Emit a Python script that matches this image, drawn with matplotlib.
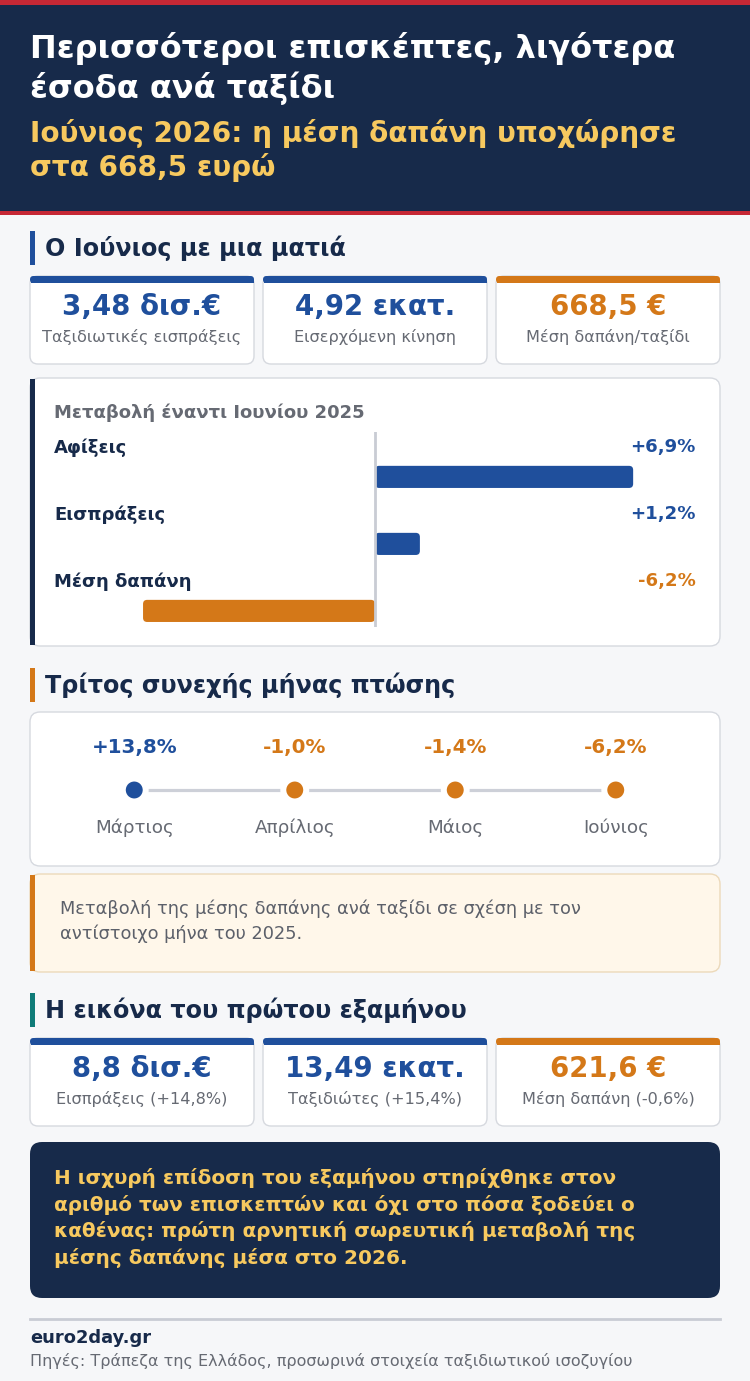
import matplotlib
matplotlib.use("Agg")
import matplotlib.pyplot as plt
from matplotlib.patches import FancyBboxPatch, Rectangle

# ---------------- data ----------------
title_lines = ["Περισσότεροι επισκέπτες, λιγότερα", "έσοδα ανά ταξίδι"]
subtitle_lines = ["Ιούνιος 2026: η μέση δαπάνη υποχώρησε", "στα 668,5 ευρώ"]

section1 = "Ο Ιούνιος με μια ματιά"
june_values = ["3,48 δισ.€", "4,92 εκατ.", "668,5 €"]
june_labels = ["Ταξιδιωτικές εισπράξεις", "Εισερχόμενη κίνηση", "Μέση δαπάνη/ταξίδι"]
june_kinds = ["pos", "pos", "neg"]

change_title = "Μεταβολή έναντι Ιουνίου 2025"
change_labels = ["Αφίξεις", "Εισπράξεις", "Μέση δαπάνη"]
change_values = [6.9, 1.2, -6.2]

section2 = "Τρίτος συνεχής μήνας πτώσης"
months = ["Μάρτιος", "Απρίλιος", "Μάιος", "Ιούνιος"]
month_changes = [13.8, -1.0, -1.4, -6.2]
note_lines = ["Μεταβολή της μέσης δαπάνης ανά ταξίδι σε σχέση με τον",
              "αντίστοιχο μήνα του 2025."]

section3 = "Η εικόνα του πρώτου εξαμήνου"
h1_values = ["8,8 δισ.€", "13,49 εκατ.", "621,6 €"]
h1_labels = ["Εισπράξεις (+14,8%)", "Ταξιδιώτες (+15,4%)", "Μέση δαπάνη (-0,6%)"]
h1_kinds = ["pos", "pos", "neg"]

conclusion_lines = ["Η ισχυρή επίδοση του εξαμήνου στηρίχθηκε στον",
                    "αριθμό των επισκεπτών και όχι στο πόσα ξοδεύει ο",
                    "καθένας: πρώτη αρνητική σωρευτική μεταβολή της",
                    "μέσης δαπάνης μέσα στο 2026."]
brand = "euro2day.gr"
source = "Πηγές: Τράπεζα της Ελλάδος, προσωρινά στοιχεία ταξιδιωτικού ισοζυγίου"

# ---------------- style ----------------
NAVY = "#172a4a"
RED = "#c62835"
YELLOW = "#f7c95f"
BLUE = "#1f4f9c"
ORANGE = "#d47818"
TEAL = "#0f7b78"
BG = "#f6f7f9"
BORDER = "#d6d9df"
GRAY = "#666a73"
LINEGRAY = "#c9ccd4"

plt.rcParams["font.family"] = ["DejaVu Sans"]

W, H = 750, 1381
fig = plt.figure(figsize=(W / 100, H / 100), dpi=100)
fig.patch.set_facecolor(BG)
cv = fig.add_axes([0, 0, 1, 1])
cv.set_xlim(0, W)
cv.set_ylim(H, 0)
cv.axis("off")


def rbox(x0, y0, x1, y1, fc, ec="none", r=8, lw=1.0, z=1):
    p = FancyBboxPatch((x0, y0), x1 - x0, y1 - y0,
                       boxstyle=f"round,pad=0,rounding_size={r}",
                       fc=fc, ec=ec, lw=lw, zorder=z)
    cv.add_patch(p)
    return p


def rect(x0, y0, x1, y1, fc, z=2):
    cv.add_patch(Rectangle((x0, y0), x1 - x0, y1 - y0, fc=fc, ec="none", zorder=z))


def pix_axes(x0, y0, x1, y1):
    return fig.add_axes([x0 / W, 1 - y1 / H, (x1 - x0) / W, (y1 - y0) / H])


# ---------------- header ----------------
rect(0, 0, W, 5, RED)
rect(0, 5, W, 211, NAVY)
rect(0, 211, W, 215, RED)
for i, t in enumerate(title_lines):
    cv.text(30, 48 + 40 * i, t, color="white", fontsize=23, fontweight="bold",
            va="center", ha="left", zorder=3)
for i, t in enumerate(subtitle_lines):
    cv.text(30, 133 + 34 * i, t, color=YELLOW, fontsize=20.1, fontweight="bold",
            va="center", ha="left", zorder=3)


def section_head(y, text, color):
    rect(30, y - 17, 35, y + 17, color)
    cv.text(45, y, text, color=NAVY, fontsize=17.2, fontweight="bold",
            va="center", ha="left", zorder=3)


def kpi_row(ytop, values, labels, kinds):
    xs = [(30, 254), (263, 487), (496, 720)]
    for (x0, x1), v, l, k in zip(xs, values, labels, kinds):
        c = BLUE if k == "pos" else ORANGE
        rbox(x0, ytop, x1, ytop + 88, "white", BORDER, r=8, lw=1.0)
        rbox(x0, ytop, x1, ytop + 7, c, r=3.5, z=2)
        rect(x0 + 0.5, ytop + 4, x1 - 0.5, ytop + 7, c)
        xc = (x0 + x1) / 2
        cv.text(xc, ytop + 31, v, color=c, fontsize=19.9, fontweight="bold",
                ha="center", va="center", zorder=3)
        cv.text(xc, ytop + 61, l, color=GRAY, fontsize=11.6,
                ha="center", va="center", zorder=3)


# ---------------- section 1 ----------------
section_head(248, section1, BLUE)
kpi_row(276, june_values, june_labels, june_kinds)

# change panel
rbox(30, 378, 720, 646, "white", BORDER, r=10)
rect(30, 379, 35, 645, NAVY)
cv.text(54, 413, change_title, color=GRAY, fontsize=13, fontweight="bold",
        ha="left", va="center", zorder=3)

bx = pix_axes(54, 432, 696, 627)
bx.set_xlim(-8.58, 8.58)
bx.set_ylim(2.24, -0.67)
bx.axis("off")
bars = bx.barh(range(len(change_values)), change_values, height=0.33,
               color=[BLUE if v >= 0 else ORANGE for v in change_values])
asp = (1 / 67) / (1 / 37.4)
for b in bars:
    x0 = min(b.get_x(), b.get_x() + b.get_width())
    bx.add_patch(FancyBboxPatch((x0, b.get_y()), abs(b.get_width()), b.get_height(),
                                boxstyle="round,pad=0,rounding_size=0.11",
                                mutation_aspect=asp, fc=b.get_facecolor(),
                                ec="none", zorder=2))
    b.remove()
bx.axvline(0, color=LINEGRAY, lw=2, zorder=3)
for i, (lab, v) in enumerate(zip(change_labels, change_values)):
    c = BLUE if v >= 0 else ORANGE
    bx.text(-8.58, i - 0.44, lab, color=NAVY, fontsize=13, fontweight="bold",
            ha="left", va="center")
    s = f"{v:+.1f}%".replace(".", ",")
    bx.text(8.58, i - 0.44, s, color=c, fontsize=13.1, fontweight="bold",
            ha="right", va="center")

# ---------------- section 2 ----------------
section_head(685, section2, ORANGE)
rbox(30, 712, 720, 866, "white", BORDER, r=10)

tx = pix_axes(54, 712, 696, 866)
tx.set_xlim(-0.5, len(months) - 0.5)
tx.set_ylim(866, 712)
tx.axis("off")
xi = list(range(len(months)))
tx.plot(xi, [790] * len(xi), color="#cdd0d8", lw=2.3, zorder=1, solid_capstyle="butt")
tx.scatter(xi, [790] * len(xi), s=272,
           c=[BLUE if v >= 0 else ORANGE for v in month_changes],
           edgecolors="white", linewidths=4.3, zorder=3)
for i, (m, v) in enumerate(zip(months, month_changes)):
    c = BLUE if v >= 0 else ORANGE
    s = f"{v:+.1f}%".replace(".", ",")
    tx.text(i, 748, s, color=c, fontsize=14.3, fontweight="bold",
            ha="center", va="center")
    tx.text(i, 828, m, color=GRAY, fontsize=13.2, ha="center", va="center")

# note
rbox(30, 874, 720, 972, "#fff7ea", "#ecd9ba", r=10)
rect(30, 875, 35, 971, ORANGE)
for i, t in enumerate(note_lines):
    cv.text(60, 909 + 25 * i, t, color="#5c606a", fontsize=12.8,
            ha="left", va="center", zorder=3)

# ---------------- section 3 ----------------
section_head(1010, section3, TEAL)
kpi_row(1038, h1_values, h1_labels, h1_kinds)

rbox(30, 1142, 720, 1298, NAVY, r=12)
for i, t in enumerate(conclusion_lines):
    cv.text(54, 1178 + 26.7 * i, t, color=YELLOW, fontsize=14.4, fontweight="bold",
            ha="left", va="center", zorder=3)

# ---------------- footer ----------------
cv.plot([30, 720], [1319, 1319], color=LINEGRAY, lw=2)
cv.text(30, 1338, brand, color=NAVY, fontsize=12.9, fontweight="bold",
        ha="left", va="center")
cv.text(30, 1361, source, color=GRAY, fontsize=11.5, ha="left", va="center")

fig.savefig("out.png", dpi=100, facecolor=BG)
